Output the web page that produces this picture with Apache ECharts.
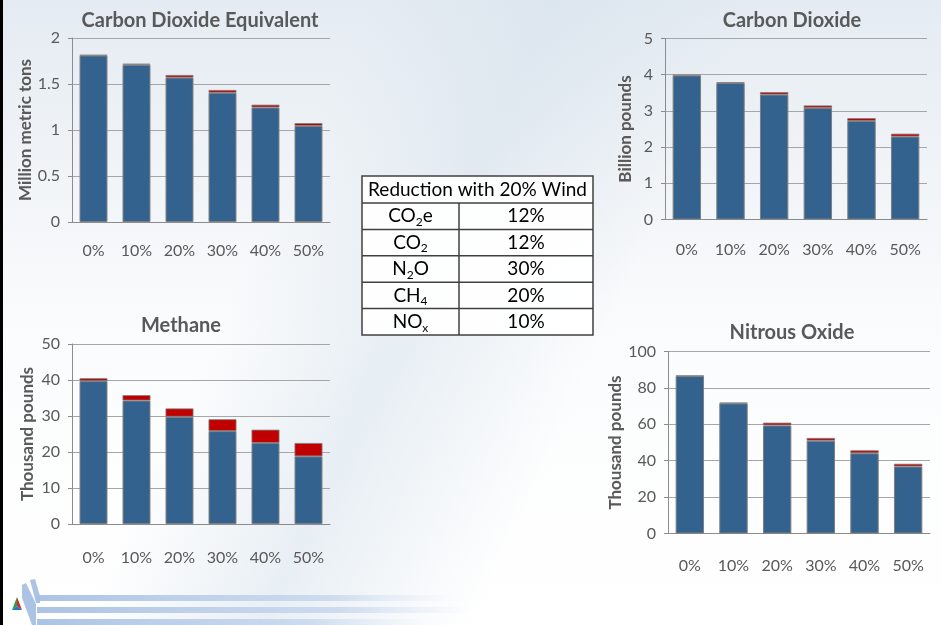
<!DOCTYPE html>
<html>
<head>
<meta charset="utf-8">
<script src="https://cdn.jsdelivr.net/npm/echarts@6/dist/echarts.min.js"></script>
<style>
html,body{margin:0;padding:0;width:941px;height:625px;overflow:hidden;}
body{background:
 linear-gradient(115deg, rgba(255,255,255,0) 30%, rgba(214,226,236,0.55) 45%, rgba(255,255,255,0) 62%),
 linear-gradient(180deg, #e4ebf2 0%, #f2f5f8 30%, #fbfcfd 55%, #ffffff 100%);}
#c{position:absolute;left:0;top:0;width:941px;height:625px;}
#edge{position:absolute;left:0;top:0;width:3px;height:625px;background:#000;}
</style>
</head>
<body>
<div id="c"></div>
<div id="edge"></div>
<script>
// ---------- data ----------
const categories = ['0%', '10%', '20%', '30%', '40%', '50%'];

const co2eBase = [1.81, 1.71, 1.57, 1.405, 1.245, 1.045];
const co2eRed  = [0.006, 0.01, 0.028, 0.03, 0.03, 0.03];

const co2Base = [3.98, 3.77, 3.45, 3.08, 2.72, 2.29];
const co2Red  = [0.015, 0.025, 0.07, 0.07, 0.08, 0.08];

const ch4Base = [39.7, 34.3, 29.8, 25.8, 22.5, 18.8];
const ch4Red  = [0.8, 1.5, 2.3, 3.3, 3.7, 3.7];

const n2oBase = [86.5, 71.5, 59.4, 51.0, 44.1, 36.8];
const n2oRed  = [0.3, 0.4, 1.5, 1.5, 1.6, 1.5];

const tableTitle = 'Reduction with 20% Wind';
const tableGases = [['CO', '2', 'e'], ['CO', '2', ''], ['N', '2', 'O'], ['CH', '4', ''], ['NO', 'x', '']];
const tableReductions = ['12%', '12%', '30%', '20%', '10%'];

// ---------- styling ----------
const FONT = 'Lato, "Open Sans", sans-serif';
const GREY = '#595959';
const BLUE = '#34628f';
const RED = '#c00000';

const panels = [
  {title: 'Carbon Dioxide Equivalent', name: 'Million metric tons', base: co2eBase, red: co2eRed,
   grid: {left: 72, right: 611, top: 38, bottom: 403}, max: 2, interval: 0.5, nameGap: 37, xMargin: 21,
   tx: 200, ty: 11},
  {title: 'Carbon Dioxide', name: 'Billion pounds', base: co2Base, red: co2Red,
   grid: {left: 665, right: 14, top: 38.5, bottom: 405.5}, max: 5, interval: 1, nameGap: 31, xMargin: 22,
   tx: 792, ty: 11},
  {title: 'Methane', name: 'Thousand pounds', base: ch4Base, red: ch4Red,
   grid: {left: 72, right: 611, top: 344, bottom: 101}, max: 50, interval: 10, nameGap: 36, xMargin: 26,
   tx: 181, ty: 316},
  {title: 'Nitrous Oxide', name: 'Thousand pounds', base: n2oBase, red: n2oRed,
   grid: {left: 668, right: 11, top: 351.5, bottom: 91.5}, max: 100, interval: 20, nameGap: 32, xMargin: 24,
   tx: 792, ty: 323}
];

const option = {
  animation: false,
  backgroundColor: 'transparent',
  title: [], grid: [], xAxis: [], yAxis: [], series: [], graphic: []
};

panels.forEach((p, i) => {
  option.title.push({
    text: p.title, left: p.tx, top: p.ty, textAlign: 'center', padding: 0,
    textStyle: {fontFamily: FONT, fontWeight: 'bold', fontSize: 20, color: GREY}
  });
  option.grid.push(Object.assign({containLabel: false}, p.grid));
  option.xAxis.push({
    type: 'category', gridIndex: i, data: categories,
    axisLine: {show: true, lineStyle: {color: '#8c8c8c', width: 1}},
    axisTick: {show: false},
    axisLabel: {color: GREY, fontFamily: FONT, fontSize: 16, margin: p.xMargin}
  });
  option.yAxis.push({
    type: 'value', gridIndex: i, min: 0, max: p.max, interval: p.interval,
    name: p.name, nameLocation: 'middle', nameGap: p.nameGap,
    nameTextStyle: {color: GREY, fontFamily: FONT, fontWeight: 'bold', fontSize: 17},
    axisLine: {show: true, lineStyle: {color: '#8c8c8c', width: 1}},
    axisTick: {show: true, length: 4, lineStyle: {color: '#8c8c8c'}},
    splitLine: {show: true, lineStyle: {color: '#a6a6a6', width: 1}},
    axisLabel: {color: GREY, fontFamily: FONT, fontSize: 16, margin: 12}
  });
  const common = {type: 'bar', xAxisIndex: i, yAxisIndex: i, stack: 's' + i, barCategoryGap: '35%'};
  option.series.push(Object.assign({}, common, {
    data: p.base, itemStyle: {color: BLUE, borderColor: '#7f7f7f', borderWidth: 1}
  }));
  option.series.push(Object.assign({}, common, {
    data: p.red, itemStyle: {color: RED, borderColor: '#7f7f7f', borderWidth: 0.8}
  }));
});

// ---------- table ----------
const tX = 362, tY = 176, tW = 231, headerH = 27, rowH = 26.4, colX = 459;
const tableChildren = [];
tableChildren.push({type: 'rect', shape: {x: tX, y: tY, width: tW, height: headerH + rowH * tableGases.length},
  style: {fill: 'rgba(255,255,255,0.92)', stroke: '#404040', lineWidth: 1.5}});
tableChildren.push({type: 'text', x: tX + tW / 2, y: tY + headerH / 2,
  style: {text: tableTitle, fill: '#000', font: '19px ' + FONT, align: 'center', verticalAlign: 'middle'}});
for (let r = 0; r < tableGases.length; r++) {
  const y0 = tY + headerH + rowH * r;
  tableChildren.push({type: 'line', shape: {x1: tX, y1: y0, x2: tX + tW, y2: y0},
    style: {stroke: '#404040', lineWidth: 1.5}});
  const g = tableGases[r];
  tableChildren.push({type: 'text', x: (tX + colX) / 2, y: y0 + rowH / 2,
    style: {text: '{n|' + g[0] + '}{s|' + g[1] + '}' + (g[2] ? '{n|' + g[2] + '}' : ''),
      align: 'center', verticalAlign: 'middle',
      rich: {n: {fontSize: 19, fontFamily: FONT, fill: '#000', lineHeight: 24},
             s: {fontSize: 12, fontFamily: FONT, fill: '#000', verticalAlign: 'bottom'}}}});
  tableChildren.push({type: 'text', x: (colX + tX + tW) / 2, y: y0 + rowH / 2,
    style: {text: tableReductions[r], fill: '#000', font: '19px ' + FONT, align: 'center', verticalAlign: 'middle'}});
}
tableChildren.push({type: 'line', shape: {x1: colX, y1: tY + headerH, x2: colX, y2: tY + headerH + rowH * tableGases.length},
  style: {stroke: '#404040', lineWidth: 1.5}});
option.graphic.push({type: 'group', children: tableChildren});

// ---------- footer decoration ----------
function band(y, h, x0, x1) {
  return {type: 'rect', shape: {x: x0, y: y, width: x1 - x0, height: h},
    style: {fill: new echarts.graphic.LinearGradient(0, 0, 1, 0, [
      {offset: 0, color: 'rgba(168,192,226,0.95)'},
      {offset: 0.7, color: 'rgba(196,213,236,0.8)'},
      {offset: 1, color: 'rgba(224,233,246,0)'}])}};
}
option.graphic.push({type: 'group', silent: true, children: [
  band(595, 6, 37, 455),
  band(607, 6, 37, 472),
  band(619, 6, 37, 425),
  {type: 'polygon', shape: {points: [[22, 585], [26, 583], [36, 604], [36, 625], [32, 625], [22, 598]]},
   style: {fill: 'rgba(168,192,226,0.95)'}},
  {type: 'polygon', shape: {points: [[30, 580], [35, 579], [40, 596], [40, 603], [36, 603]]},
   style: {fill: 'rgba(168,192,226,0.95)'}},
  {type: 'polygon', shape: {points: [[17, 597], [12, 610], [17, 606]]}, style: {fill: '#2e9e3e'}},
  {type: 'polygon', shape: {points: [[17, 597], [22, 610], [17, 606]]}, style: {fill: '#d9262c'}},
  {type: 'polygon', shape: {points: [[12, 610], [22, 610], [17, 606]]}, style: {fill: '#1f78c8'}}
]});

const chart = echarts.init(document.getElementById('c'), null, {renderer: 'canvas'});
chart.setOption(option);
</script>
</body>
</html>
